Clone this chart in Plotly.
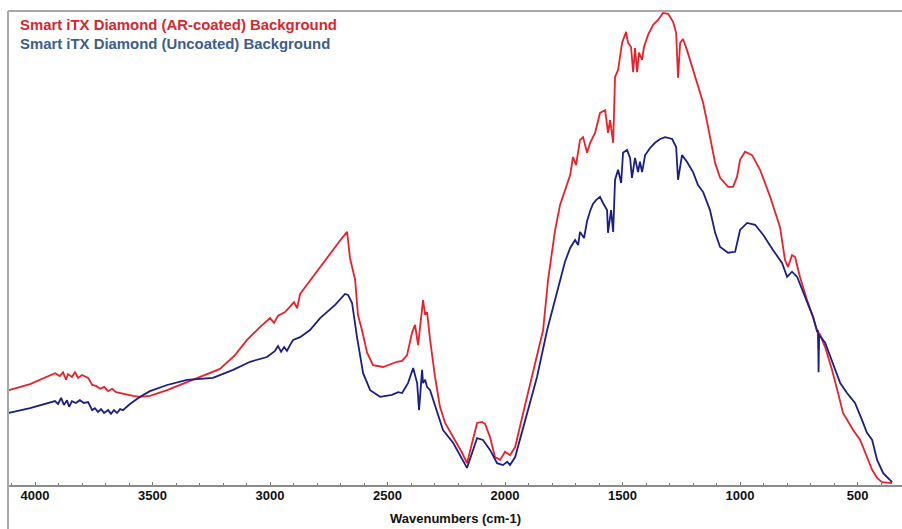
import plotly.graph_objects as go

# Single-beam background spectra of two Smart iTX diamond ATR crystals
coated_wavenumber = [
    4111, 4021, 3915, 3894, 3881, 3868, 3860, 3843, 3830, 3817, 3800, 3774,
    3757, 3740, 3723, 3706, 3689, 3672, 3655, 3638, 3617, 3583, 3553, 3511,
    3438, 3362, 3298, 3213, 3149, 3098, 3043, 3000, 2983, 2966, 2936, 2915,
    2898, 2885, 2872, 2847, 2809, 2766, 2723, 2694, 2672, 2660, 2638, 2626,
    2609, 2587, 2562, 2519, 2460, 2438, 2417, 2396, 2383, 2370, 2357, 2349,
    2340, 2332, 2328, 2319, 2298, 2277, 2255, 2221, 2183, 2162, 2140, 2119,
    2098, 2085, 2064, 2043, 2021, 2000, 1979, 1957, 1923, 1881, 1838, 1817,
    1787, 1766, 1745, 1723, 1711, 1698, 1681, 1668, 1651, 1638, 1617, 1596,
    1574, 1562, 1553, 1540, 1532, 1519, 1502, 1494, 1485, 1477, 1464, 1455,
    1447, 1438, 1430, 1417, 1409, 1391, 1370, 1349, 1328, 1306, 1285, 1272,
    1264, 1255, 1243, 1226, 1204, 1179, 1157, 1136, 1115, 1106, 1085, 1051,
    1030, 1013, 1000, 979, 949, 915, 872, 830, 809, 796, 779, 766, 745, 715,
    689, 672, 668, 666, 664, 660, 638, 609, 583, 562, 519, 489, 460, 438,
    417, 396, 353,
]
coated_intensity = [
    20.0, 21.3, 23.6, 23.0, 23.8, 22.2, 23.4, 22.8, 23.8, 22.6, 23.2, 22.6,
    21.1, 20.9, 20.3, 20.7, 19.8, 20.3, 19.6, 19.4, 19.2, 18.8, 18.6, 18.8,
    20.0, 21.5, 22.8, 24.5, 27.4, 30.6, 33.3, 35.2, 34.2, 35.7, 36.5, 37.8,
    38.6, 37.3, 40.3, 42.0, 44.5, 47.5, 50.2, 52.1, 53.4, 47.9, 43.3, 35.9,
    32.7, 27.9, 25.3, 24.9, 26.0, 26.2, 27.4, 32.1, 33.8, 29.5, 35.4, 39.0,
    35.9, 36.5, 34.8, 30.6, 22.8, 16.5, 13.1, 10.1, 6.8, 4.6, 8.9, 13.1,
    13.3, 12.9, 10.1, 5.9, 5.3, 7.0, 6.3, 8.0, 15.2, 23.6, 32.7, 43.3,
    53.8, 59.1, 62.2, 65.4, 69.2, 67.5, 72.8, 73.4, 70.1, 72.2, 74.3, 78.5,
    79.1, 74.3, 77.0, 72.2, 86.1, 87.6, 93.3, 94.5, 95.6, 93.3, 92.4, 87.1,
    92.2, 87.1, 91.2, 89.7, 92.4, 95.0, 97.1, 98.1, 99.6, 99.4, 97.7, 95.4,
    85.9, 93.3, 94.1, 91.8, 88.2, 84.0, 80.6, 75.5, 70.1, 67.9, 64.8, 62.9,
    62.9, 65.0, 68.6, 70.3, 69.6, 66.5, 60.8, 54.4, 47.5, 46.0, 48.5, 48.1,
    43.9, 39.0, 35.4, 32.3, 32.7, 28.5, 32.1, 31.7, 29.1, 24.3, 19.4, 15.2,
    11.6, 9.5, 5.9, 3.2, 1.5, 0.6, 0.4,
]

uncoated_wavenumber = [
    4111, 4021, 3915, 3902, 3889, 3877, 3864, 3855, 3843, 3826, 3809, 3792,
    3774, 3757, 3745, 3732, 3719, 3706, 3689, 3677, 3664, 3651, 3638, 3626,
    3596, 3553, 3511, 3438, 3353, 3243, 3157, 3085, 3013, 2979, 2966, 2953,
    2940, 2928, 2915, 2902, 2872, 2830, 2787, 2723, 2681, 2668, 2651, 2630,
    2604, 2574, 2532, 2481, 2455, 2438, 2413, 2391, 2374, 2366, 2353, 2349,
    2340, 2332, 2319, 2289, 2264, 2221, 2179, 2162, 2140, 2119, 2094, 2064,
    2034, 2009, 1991, 1979, 1957, 1923, 1864, 1821, 1779, 1766, 1745, 1723,
    1702, 1689, 1681, 1664, 1651, 1638, 1626, 1613, 1596, 1583, 1566, 1562,
    1549, 1540, 1532, 1519, 1506, 1498, 1481, 1468, 1460, 1447, 1434, 1426,
    1417, 1404, 1383, 1362, 1340, 1319, 1289, 1272, 1264, 1247, 1226, 1200,
    1179, 1157, 1128, 1106, 1085, 1051, 1021, 1000, 970, 936, 902, 860,
    821, 800, 779, 757, 723, 689, 672, 668, 666, 664, 638, 609, 574, 545,
    511, 481, 460, 438, 417, 391, 353,
]
uncoated_intensity = [
    15.2, 16.2, 17.7, 17.1, 18.4, 16.9, 17.9, 16.5, 17.7, 17.3, 17.9, 17.3,
    17.5, 15.8, 16.2, 15.4, 16.0, 15.2, 15.8, 15.0, 15.8, 15.2, 16.0, 15.8,
    17.1, 18.6, 19.8, 21.1, 22.2, 22.6, 24.3, 26.0, 27.0, 28.3, 29.3, 28.1,
    29.1, 28.3, 29.5, 30.6, 31.2, 32.7, 35.2, 38.0, 40.3, 40.1, 38.4, 31.2,
    23.6, 20.0, 18.6, 19.0, 19.6, 19.4, 21.5, 24.7, 21.5, 15.8, 24.3, 21.5,
    22.2, 20.7, 20.0, 15.2, 11.6, 8.9, 5.3, 3.6, 6.8, 9.9, 9.5, 7.4,
    4.6, 4.2, 4.9, 4.2, 5.9, 12.2, 22.8, 32.7, 40.5, 43.3, 47.1, 50.0,
    51.7, 50.6, 53.4, 52.1, 55.7, 57.8, 59.3, 60.1, 60.8, 59.5, 58.0, 53.2,
    58.0, 53.4, 64.4, 66.5, 63.7, 70.1, 70.7, 69.0, 64.8, 69.0, 66.0, 68.2,
    66.0, 69.6, 71.1, 72.2, 73.0, 73.4, 73.0, 71.3, 64.4, 69.6, 68.2, 66.0,
    63.3, 61.8, 58.0, 53.2, 50.2, 49.0, 49.2, 53.8, 55.3, 54.9, 52.8, 49.6,
    46.8, 43.9, 45.0, 43.9, 39.7, 35.4, 32.5, 32.1, 23.8, 31.7, 30.0, 26.0,
    21.5, 19.4, 17.3, 13.7, 11.0, 9.5, 5.3, 2.5, 0.6,
]

tick_values = [4000, 3500, 3000, 2500, 2000, 1500, 1000, 500]
tick_labels = ["4000", "3500", "3000", "2500", "2000", "1500", "1000", "500"]

series_names = [
    "Smart iTX Diamond (AR-coated) Background",
    "Smart iTX Diamond (Uncoated) Background",
]
line_colors = ["#e8212b", "#1b1f84"]
label_colors = ["#d6262f", "#3d5d8c"]

FONT = "Liberation Sans, Arial, sans-serif"

fig = go.Figure()
fig.add_trace(go.Scatter(
    x=coated_wavenumber, y=coated_intensity, mode="lines",
    name=series_names[0], line=dict(color=line_colors[0], width=1.8),
))
fig.add_trace(go.Scatter(
    x=uncoated_wavenumber, y=uncoated_intensity, mode="lines",
    name=series_names[1], line=dict(color=line_colors[1], width=1.8),
))

# Series captions in the top-left corner
for i, (name, col) in enumerate(zip(series_names, label_colors)):
    fig.add_annotation(
        text=name, xref="paper", yref="paper",
        x=0.0112, y=0.9705 - i * 0.041, xanchor="left", yanchor="middle",
        showarrow=False,
        font=dict(family=FONT, size=14.9, color=col, weight="bold"),
    )

# Axis title
fig.add_annotation(
    text="Wavenumbers (cm-1)", xref="paper", yref="paper",
    x=0.5, y=-0.0717, xanchor="center", yanchor="middle", showarrow=False,
    font=dict(family=FONT, size=13, color="#111111", weight="bold"),
)

# Outer frame: top and left edges
fig.add_shape(type="line", xref="paper", yref="paper", x0=0, x1=1.0, y0=1, y1=1,
              line=dict(color="#a8a8a8", width=2))
fig.add_shape(type="line", xref="paper", yref="paper", x0=0, x1=0, y0=1, y1=-0.12,
              line=dict(color="#a8a8a8", width=2))

fig.update_xaxes(
    range=[4115, 311], showgrid=False, zeroline=False,
    showline=True, linecolor="#8c8c8c", linewidth=1.5,
    tickvals=tick_values, ticktext=tick_labels,
    ticks="inside", ticklen=3, tickcolor="#777777", tickwidth=1,
    minor=dict(dtick=100, ticks="inside", ticklen=2, tickcolor="#777777", tickwidth=1),
    tickfont=dict(family=FONT, size=13, color="#111111", weight="bold"),
    ticklabelstandoff=-2,
)
fig.update_yaxes(range=[0, 100], visible=False, showgrid=False, zeroline=False)

fig.update_layout(
    width=902, height=529,
    margin=dict(l=8, r=0, t=11, b=44),
    paper_bgcolor="white", plot_bgcolor="white",
    showlegend=False,
)

fig.write_html("out.html")
